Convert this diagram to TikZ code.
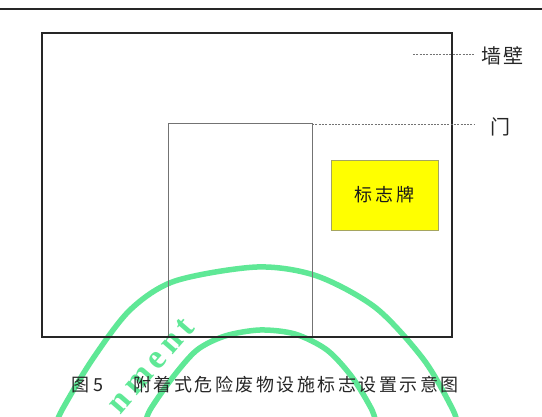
\documentclass[tikz,border=0pt]{standalone}
\usepackage{fontspec}
\newfontfamily\cjk{Noto Sans CJK SC}
\newfontfamily\cjkcap[LetterSpace=14]{Noto Sans CJK SC}
\newfontfamily\wmfont{Liberation Serif}
\definecolor{wmgreen}{RGB}{95,232,150}
\definecolor{signyellow}{RGB}{255,255,0}
\definecolor{signedge}{RGB}{165,165,95}
\begin{document}
\begin{tikzpicture}[x=1pt,y=-1pt,
  wallbox/.style={draw=black!85,line width=1.8pt,minimum width=410pt,minimum height=304pt,inner sep=0pt,outer sep=0pt},
  doorbox/.style={draw=black!55,line width=0.9pt,minimum width=144pt,minimum height=214pt,inner sep=0pt,outer sep=0pt},
  signbox/.style={draw=signedge,fill=signyellow,line width=0.8pt,minimum width=107pt,minimum height=70pt,inner sep=0pt,font=\cjkcap\fontsize{18pt}{18pt}\selectfont,text=black!90},
  lbl/.style={font=\cjkcap\fontsize{20pt}{20pt}\selectfont,inner sep=0pt,text=black!85},
  leader/.style={draw=black!55,line width=0.8pt,dash pattern=on 2pt off 1.3pt},
  wm/.style={draw=wmgreen,line width=5.5pt,line cap=round},
  captext/.style={font=\cjkcap\fontsize{18pt}{18pt}\selectfont,inner sep=0pt,text=black!85}
]
\useasboundingbox (0,0) rectangle (542,417);
\fill[white] (0,0) rectangle (542,417);
% watermark
\begin{scope}
\clip (0,0) rectangle (542,417);
\draw[wm] plot[smooth] coordinates {(56,425) (62,410) (92,360) (130,310) (175,281) (257,267) (317,276) (376,308) (424,360) (453,410) (457,425)};
\draw[wm] plot[smooth] coordinates {(145,425) (150,410) (173,377) (197,350) (225,336) (260,330) (295,334) (327,350) (352,377) (372,410) (376,425)};
\node[text=wmgreen,font=\wmfont\bfseries\fontsize{34pt}{34pt}\selectfont,rotate=49,inner sep=0pt] (wmtext) at (151,366) {n\kern5.5pt m\kern5.5pt e\kern5.5pt n\kern5.5pt t};
\end{scope}
% header rule
\coordinate (hl) at (0,9);
\coordinate (hr) at (542,9);
\draw[black!85,line width=1.4pt] (hl) -- (hr);
% wall, door, sign
\node[doorbox] (door) at (240,230) {};
\node[wallbox] (wall) at (247,185) {};
\node[signbox] (sign) at (384.5,195) {标志牌};
% labels
\node[lbl,anchor=west] (walllabel) at (481,56) {墙壁};
\node[lbl,anchor=west] (doorlabel) at (490,127) {门};
\coordinate (wallpt) at (413,54);
\coordinate (wallend) at (474,54);
\coordinate (doorend) at (474,124);
\draw[leader] (wallpt) -- (wallend);
\draw[leader] ([yshift=-1pt]door.north east) -- (doorend);
% caption
\node[captext,anchor=west] (caption) at (71,385) {图\hspace{4pt}5\hspace{30pt}附着式危险废物设施标志设置示意图};
\end{tikzpicture}
\end{document}
